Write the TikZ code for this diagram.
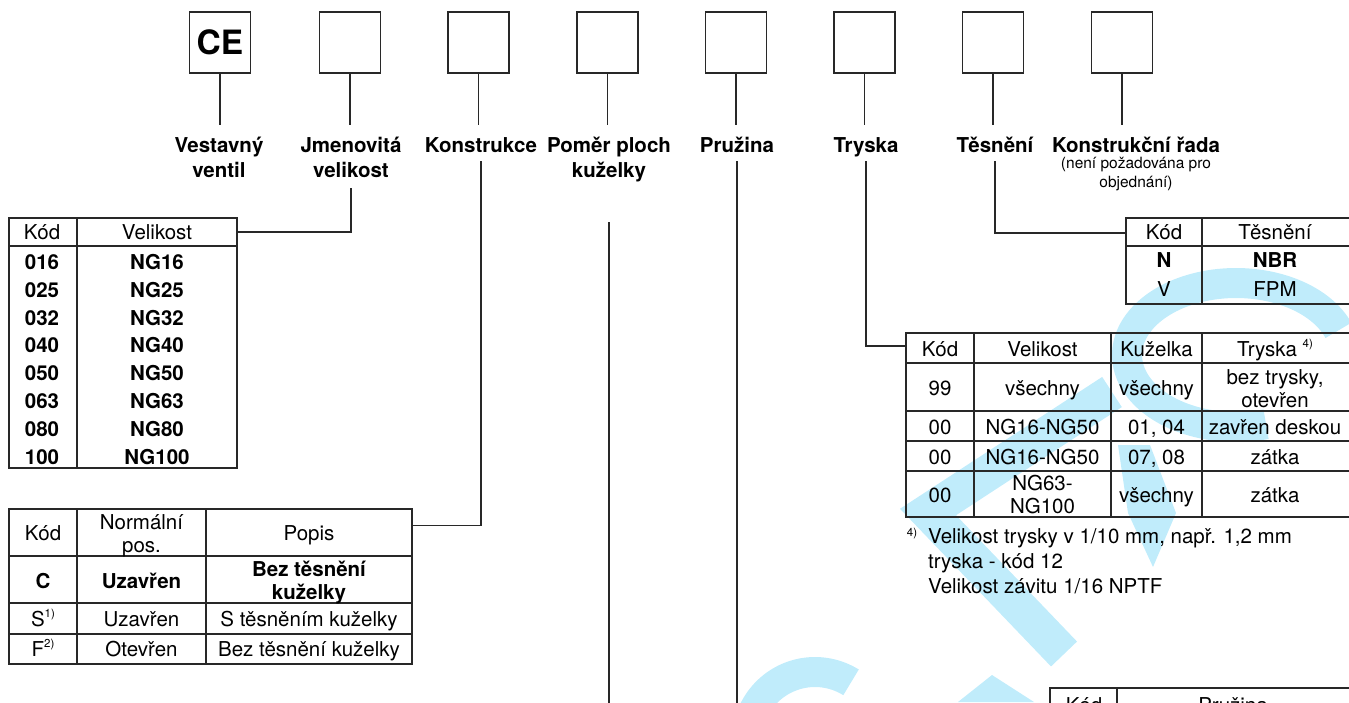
\documentclass[tikz,border=0pt]{standalone}
\usepackage{fontspec}
\setmainfont{TeX Gyre Heros}
\usetikzlibrary{calc}
\definecolor{wmc}{RGB}{192,236,251}
\definecolor{ink}{RGB}{40,40,40}
\newcommand\lblfont{\fontsize{20.5}{25}\selectfont\bfseries}
\newcommand\tabfont{\fontsize{20.5}{23}\selectfont}
\newcommand\subfont{\fontsize{15.5}{19}\selectfont}
\newcommand\sups[1]{\raisebox{0.42em}{\fontsize{11.5}{12}\selectfont #1}}
\begin{document}
\begin{tikzpicture}[x=1pt,y=-1pt,
  con/.style={draw=ink, line width=1.3pt},
  grid/.style={draw=ink, line width=1.3pt},
  box/.style={draw=ink, line width=1.4pt, minimum width=61pt, minimum height=61pt, inner sep=0pt},
  lbl/.style={font=\lblfont, align=center, inner sep=0pt, anchor=base},
  sub/.style={font=\subfont, align=center, inner sep=0pt, anchor=base},
  td/.style={font=\tabfont, align=center, inner sep=0pt, anchor=base},
  tb/.style={font=\tabfont\bfseries, align=center, inner sep=0pt, anchor=base},
  hdr/.style={inner sep=0pt},
  wm/.style={draw=wmc, line width=30pt}
]
\useasboundingbox (0,0) rectangle (1349,702);
\clip (0,0) rectangle (1349,702);

% watermark
\draw[wm] plot[domain=-286:-20, samples=80, smooth] ({1236+109*cos(\x)},{355+72*sin(\x)});
\draw[wm, line width=36pt, line join=miter] (1112,392) -- (928,512) -- (1064,654);
\fill[wmc] (1118,445) -- (1150,445) -- (1176,513) -- (1153,567) -- (1128,513) -- cycle;
\draw[wm] plot[domain=-160:-58, samples=40, smooth] ({815+68*cos(\x)},{740+68*sin(\x)});
\fill[wmc] (958,702) -- (992,675) -- (1034,702) -- cycle;

% top boxes
\node[box, font=\fontsize{33.5}{36}\selectfont\bfseries] (b1) at (220,42.5) {CE};
\node[box] (b2) at (350,42.5) {};
\node[box] (b3) at (478.5,42.5) {};
\node[box] (b4) at (607.5,42.5) {};
\node[box] (b5) at (736,42.5) {};
\node[box] (b6) at (864.5,42.5) {};
\node[box] (b7) at (993,42.5) {};
\node[box] (b8) at (1122,42.5) {};

% labels (base = last line baseline)
\node[lbl] (l1) at (219,177) {Vestavný\\ventil};
\node[lbl] (l2) at (351,177) {Jmenovitá\\velikost};
\node[lbl] (l3) at (481,152) {Konstrukce};
\node[lbl] (l4) at (609,177) {Poměr ploch\\kuželky};
\node[lbl] (l5) at (737,152) {Pružina};
\node[lbl] (l6) at (866,152) {Tryska};
\node[lbl] (l7) at (995,152) {Těsnění};
\node[lbl] (l8) at (1136,152) {Konstrukční řada};
\node[sub] (s8) at (1136,187) {(není požadována pro\\objednání)};

% box-to-label lines
\foreach \i in {1,...,8} { \draw[con] (b\i.south) -- ++(0,51); }

% ---------- table NG ----------
\node[hdr, minimum width=228pt, minimum height=28pt] (hJ) at (123,232) {};
\draw[grid] (9,218) rectangle (237,468);
\draw[grid] (77,218) -- (77,468);
\draw[draw=ink, line width=2.2pt] (9,246) -- (237,246);
\node[td] at (42,239.5) {Kód};
\node[td] at (157,239.5) {Velikost};
\foreach \c/\v [count=\k from 0] in {016/NG16,025/NG25,032/NG32,040/NG40,050/NG50,063/NG63,080/NG80,100/NG100}{
  \node[tb] at (42,269.2+27.9*\k) {\c};
  \node[tb] at (157,269.2+27.9*\k) {\v};
}

% ---------- table Konstrukce ----------
\node[hdr, minimum width=403pt, minimum height=47pt] (hK) at (210.5,532.5) {};
\draw[grid] (9,509) rectangle (412,664);
\draw[grid] (77,509) -- (77,664);
\draw[grid] (206,509) -- (206,664);
\draw[grid] (9,556) -- (412,556);
\draw[grid] (9,603) -- (412,603);
\draw[grid] (9,634) -- (412,634);
\node[td] at (43,540.5) {Kód};
\node[td] at (141.5,552.5) {Normální\\pos.};
\node[td] at (309,540.5) {Popis};
\node[tb] at (43,588.5) {C};
\node[tb] at (141.5,588.5) {Uzavřen};
\node[tb] at (309,599.5) {Bez těsnění\\kuželky};
\node[td] at (43,626.5) {S\sups{1)}};
\node[td] at (141.5,626.5) {Uzavřen};
\node[td] at (309,626.5) {S těsněním kuželky};
\node[td] at (43,656.5) {F\sups{2)}};
\node[td] at (141.5,656.5) {Otevřen};
\node[td] at (309,656.5) {Bez těsnění kuželky};

% ---------- table Těsnění ----------
\node[hdr, minimum width=223pt, minimum height=28pt] (hS) at (1237.5,232) {};
\draw[grid] (1352,218) -- (1126,218) -- (1126,304) -- (1352,304);
\draw[grid] (1202,218) -- (1202,304);
\draw[grid] (1126,246) -- (1352,246);
\node[td] at (1164,239.5) {Kód};
\node[td] at (1275,239.5) {Těsnění};
\node[tb] at (1164,267.5) {N};
\node[tb] at (1275,267.5) {NBR};
\node[td] at (1164,296.5) {V};
\node[td] at (1275,296.5) {FPM};

% ---------- table Tryska ----------
\node[hdr, minimum width=443pt, minimum height=30pt] (hT) at (1127.5,348) {};
\draw[grid] (1352,333) -- (906,333) -- (906,517) -- (1352,517);
\foreach \x in {974,1111,1202} { \draw[grid] (\x,333) -- (\x,517); }
\foreach \y in {363,411,441,471} { \draw[grid] (906,\y) -- (1352,\y); }
\node[td] at (940,356.5) {Kód};
\node[td] at (1042.5,356.5) {Velikost};
\node[td] at (1156.5,356.5) {Kuželka};
\node[td] at (1275,356.5) {Tryska \sups{4)}};
\node[td] at (940,395.5) {99};
\node[td] at (1042.5,395.5) {všechny};
\node[td] at (1156.5,395.5) {všechny};
\node[td] at (1275,407.5) {bez trysky,\\otevřen};
\node[td] at (940,434.5) {00};
\node[td] at (1042.5,434.5) {NG16-NG50};
\node[td] at (1156.5,434.5) {01, 04};
\node[td] at (1275,434.5) {zavřen deskou};
\node[td] at (940,464.5) {00};
\node[td] at (1042.5,464.5) {NG16-NG50};
\node[td] at (1156.5,464.5) {07, 08};
\node[td] at (1275,464.5) {zátka};
\node[td] at (940,502.5) {00};
\node[td] at (1042.5,513.5) {NG63-\\NG100};
\node[td] at (1156.5,502.5) {všechny};
\node[td] at (1275,502.5) {zátka};

% footnote
\node[inner sep=0pt, anchor=base, font=\fontsize{11.5}{12}\selectfont] (fn4) at (912,536) {4)};
\node[inner sep=0pt, anchor=base west, align=left, font=\fontsize{20.5}{25}\selectfont] (fnt) at (928,593) {Velikost trysky v 1/10 mm, např. 1,2 mm\\tryska - kód 12\\Velikost závitu 1/16 NPTF};

% ---------- table Pružina (cut) ----------
\node[hdr, minimum width=299pt, minimum height=30pt] (hP) at (1199.5,703) {};
\draw[grid] (1050,720) -- (1050,688) -- (1352,688);
\draw[grid] (1117,688) -- (1117,720);
\node[td] at (1084,712) {Kód};
\node[td] at (1233,712) {Pružina};

% connectors from labels to tables
\draw[con] ([yshift=-11pt]l2.base) |- (hJ.east);
\draw[con] ([yshift=-9pt]l3.base) |- ([yshift=7pt]hK.east);
\draw[con] ([yshift=-45pt]l4.base) -- ++(0,520);
\draw[con] ([yshift=-9pt]l5.base) -- ++(0,580);
\draw[con] ([yshift=-9pt]l6.base) |- ([yshift=2pt]hT.west);
\draw[con] ([yshift=-9pt]l7.base) |- ([yshift=-1pt]hS.west);
\end{tikzpicture}
\end{document}
